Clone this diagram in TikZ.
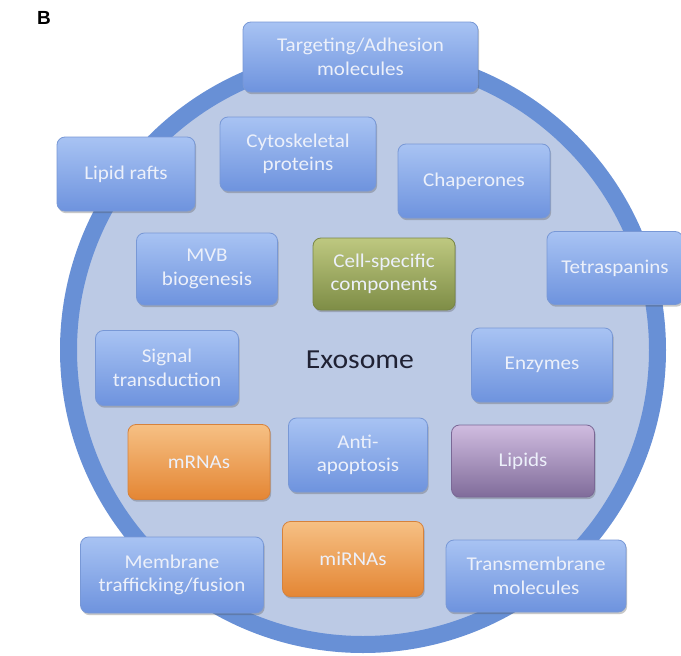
\documentclass[tikz,border=0pt]{standalone}
\usepackage{fontspec}
\setmainfont{Carlito}[FakeStretch=1.08]
\newfontfamily\labelfont{Liberation Sans}
\usetikzlibrary{shadows}
\definecolor{ringc}{RGB}{104,144,214}
\definecolor{innerc}{RGB}{188,202,229}
\definecolor{bluetop}{RGB}{168,195,243}
\definecolor{bluebot}{RGB}{110,147,222}
\definecolor{blueedge}{RGB}{120,152,214}
\definecolor{greentop}{RGB}{190,200,128}
\definecolor{greenbot}{RGB}{126,141,70}
\definecolor{greenedge}{RGB}{120,134,70}
\definecolor{orangetop}{RGB}{246,192,132}
\definecolor{orangebot}{RGB}{228,134,52}
\definecolor{orangeedge}{RGB}{214,130,60}
\definecolor{purpletop}{RGB}{208,188,224}
\definecolor{purplebot}{RGB}{128,108,154}
\definecolor{purpleedge}{RGB}{122,104,150}
\definecolor{boxtext}{RGB}{236,240,250}
\definecolor{exotext}{RGB}{32,34,52}
\tikzset{
  compbox/.style={rounded corners=8pt, align=center, inner sep=2pt,
    font=\fontsize{19.5}{23.5}\selectfont, text=boxtext, line width=0.8pt,
    drop shadow={shadow xshift=1.2pt, shadow yshift=-2.2pt, opacity=0.3, fill=black!70}},
  bluebox/.style={compbox, top color=bluetop, bottom color=bluebot, draw=blueedge},
  greenbox/.style={compbox, top color=greentop, bottom color=greenbot, draw=greenedge},
  orangebox/.style={compbox, top color=orangetop, bottom color=orangebot, draw=orangeedge},
  purplebox/.style={compbox, top color=purpletop, bottom color=purplebot, draw=purpleedge},
}
\begin{document}
\begin{tikzpicture}[x=1pt,y=-1pt]
\useasboundingbox (0,0) rectangle (681,656);
\fill[white] (0,0) rectangle (681,656);
% exosome membrane
\draw[line width=17pt, draw=ringc, fill=innerc] (363,350) circle[radius=294.5pt];
\node[font=\labelfont\bfseries\fontsize{19}{21}\selectfont] (lbl) at (44,18) {B};
\node[font=\fontsize{27.5}{30}\selectfont, text=exotext] (exo) at (360,360) {Exosome};
% components
\node[bluebox, minimum width=235pt, minimum height=70pt] (targ) at (360.5,57) {Targeting/Adhesion\\molecules};
\node[bluebox, minimum width=138pt, minimum height=74pt] (rafts) at (126,174) {Lipid rafts};
\node[bluebox, minimum width=156pt, minimum height=74pt] (cyto) at (298,154) {Cytoskeletal\\proteins};
\node[bluebox, minimum width=152pt, minimum height=74pt] (chap) at (474,181) {Chaperones};
\node[bluebox, minimum width=141pt, minimum height=72pt] (mvb) at (207,269) {MVB\\biogenesis};
\node[greenbox, minimum width=142pt, minimum height=72pt] (cell) at (384,274) {Cell-specific\\components};
\node[bluebox, minimum width=136pt, minimum height=73pt] (tetra) at (615,268) {Tetraspanins};
\node[bluebox, minimum width=143pt, minimum height=75pt] (signal) at (167,368) {Signal\\transduction};
\node[bluebox, minimum width=141pt, minimum height=74pt] (enz) at (542,365) {Enzymes};
\node[orangebox, minimum width=142pt, minimum height=75pt] (mrna) at (199,462) {mRNAs};
\node[bluebox, minimum width=139pt, minimum height=74pt] (anti) at (358,455) {Anti-\\apoptosis};
\node[purplebox, minimum width=143pt, minimum height=72pt] (lipids) at (523,461) {Lipids};
\node[bluebox, minimum width=183pt, minimum height=76pt] (memb) at (172,575) {Membrane\\trafficking/fusion};
\node[orangebox, minimum width=141pt, minimum height=75pt] (mirna) at (353,559) {miRNAs};
\node[bluebox, minimum width=180pt, minimum height=72pt] (trans) at (536,576) {Transmembrane\\molecules};
\end{tikzpicture}
\end{document}
